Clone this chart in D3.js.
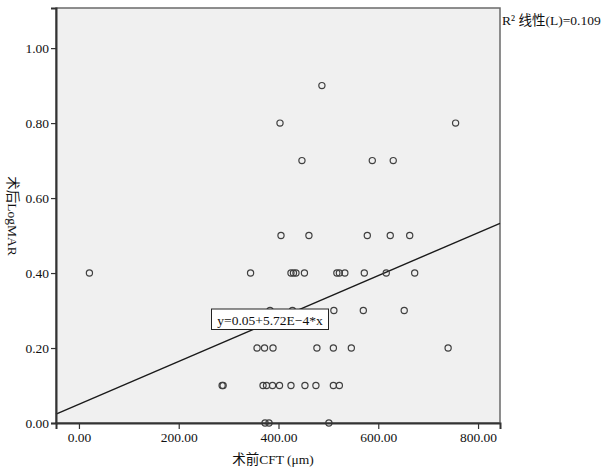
<!DOCTYPE html>
<html>
<head>
<meta charset="utf-8">
<script src="https://cdn.jsdelivr.net/npm/d3@7"></script>
<style>
  html, body { margin: 0; padding: 0; background: #fff; }
  svg text { font-family: "Liberation Serif", "Noto Sans CJK SC", serif; fill: #111; }
</style>
</head>
<body>
<svg id="chart" width="609" height="472"></svg>
<script>
// Data
const cftValues = [
  487,
  403, 755,
  447, 588, 630,
  405, 461, 578, 624, 663,
  21, 344, 425, 430, 435, 452, 517, 522, 533, 572, 616, 673,
  383, 428, 511, 570, 652,
  357, 372, 389, 477, 510, 546, 740,
  287, 289, 369, 376, 388, 402, 425, 453, 475, 510, 522,
  373, 381, 501
];
const logmarValues = [
  0.90,
  0.80, 0.80,
  0.70, 0.70, 0.70,
  0.50, 0.50, 0.50, 0.50, 0.50,
  0.40, 0.40, 0.40, 0.40, 0.40, 0.40, 0.40, 0.40, 0.40, 0.40, 0.40, 0.40,
  0.30, 0.30, 0.30, 0.30, 0.30,
  0.20, 0.20, 0.20, 0.20, 0.20, 0.20, 0.20,
  0.10, 0.10, 0.10, 0.10, 0.10, 0.10, 0.10, 0.10, 0.10, 0.10, 0.10,
  0.00, 0.00, 0.00
];
const xTickValues = [0, 200, 400, 600, 800];
const yTickValues = [0, 0.2, 0.4, 0.6, 0.8, 1.0];
const fitIntercept = 0.05;
const fitSlope = 5.72e-4;
const xTitle = "术前CFT (μm)";
const yTitle = "术后LogMAR";
const fitLabel = "y=0.05+5.72E\u22124*x";
const r2Label = "R\u00B2 线性(L)=0.109";

(function () {
const svg = d3.select("#chart");
const pLeft = 56, pRight = 500, pTop = 8, pBottom = 423;

const x = d3.scaleLinear().domain([-46, 844]).range([pLeft, pRight]);
const y = d3.scaleLinear().domain([0, 1.107]).range([pBottom, pTop]);

// plot background
svg.append("rect")
  .attr("x", pLeft).attr("y", pTop)
  .attr("width", pRight - pLeft).attr("height", pBottom - pTop)
  .attr("fill", "#f0f0f0")
  .attr("stroke", "#6a6a6a").attr("stroke-width", 1.5);

// regression line
const xd = x.domain();
svg.append("line")
  .attr("x1", x(xd[0])).attr("y1", y(fitIntercept + fitSlope * xd[0]))
  .attr("x2", x(xd[1])).attr("y2", y(fitIntercept + fitSlope * xd[1]))
  .attr("stroke", "#1a1a1a").attr("stroke-width", 1.4);

// points
const pts = cftValues.map((v, i) => ({ x: v, y: logmarValues[i] }));
svg.append("g").selectAll("circle").data(pts).enter().append("circle")
  .attr("cx", d => x(d.x)).attr("cy", d => y(d.y))
  .attr("r", 3.1)
  .attr("fill", "none")
  .attr("stroke", "#404040").attr("stroke-width", 1.2);

// axes
const fmt = d3.format(".2f");
const yAxis = svg.append("g").attr("transform", `translate(${pLeft},0)`)
  .call(d3.axisLeft(y).tickValues(yTickValues).tickFormat(fmt).tickSize(5).tickPadding(2));
const xAxis = svg.append("g").attr("transform", `translate(0,${pBottom})`)
  .call(d3.axisBottom(x).tickValues(xTickValues).tickFormat(fmt).tickSize(6).tickPadding(3));
[yAxis, xAxis].forEach(g => {
  g.selectAll("path.domain").attr("stroke", "#333").attr("stroke-width", 2);
  g.selectAll(".tick line").attr("stroke", "#333").attr("stroke-width", 1.2);
  g.selectAll(".tick text")
    .style("font-family", '"Liberation Serif", serif')
    .style("font-size", "13.5px").attr("fill", "#111");
});

// fit label box
const lblCx = 270, lblCy = 319.5;
svg.append("rect")
  .attr("x", 211.5).attr("y", 309)
  .attr("width", 117).attr("height", 20.5)
  .attr("fill", "#fff").attr("stroke", "#222").attr("stroke-width", 1);
svg.append("text")
  .attr("x", lblCx).attr("y", lblCy + 5)
  .attr("text-anchor", "middle")
  .style("font-size", "13.5px")
  .text(fitLabel);

// axis titles
svg.append("text")
  .attr("x", 273).attr("y", 464)
  .attr("text-anchor", "middle")
  .style("font-size", "13.5px")
  .text(xTitle);
svg.append("text")
  .attr("transform", "translate(8,216) rotate(90)")
  .attr("text-anchor", "middle")
  .style("font-size", "13.5px")
  .text(yTitle);

// R² label
svg.append("text")
  .attr("x", 502).attr("y", 25)
  .style("font-size", "13.5px")
  .text(r2Label);
})();
</script>
</body>
</html>
